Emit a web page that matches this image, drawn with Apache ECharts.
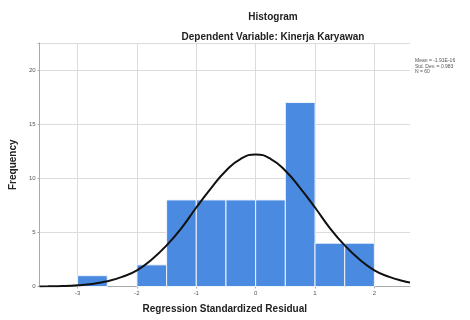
<!DOCTYPE html>
<html>
<head>
<meta charset="utf-8">
<script src="https://cdn.jsdelivr.net/npm/echarts@6/dist/echarts.min.js"></script>
<style>html,body{margin:0;padding:0;background:#fff}#c{width:470px;height:320px}</style>
</head>
<body>
<div id="c"></div>
<script>
// Histogram bins (start of each bin), bin width and frequencies
var binStarts = [-3, -2, -1.5, -1, -0.5, 0, 0.5, 1, 1.5];
var binWidth = 0.5;
var counts = [1, 2, 8, 8, 8, 8, 17, 4, 4];
// Normal curve points
var curveX = [-3.64, -3.5, -3.25, -3, -2.75, -2.5, -2.25, -2, -1.75, -1.5, -1.25, -1, -0.75, -0.5, -0.25, 0, 0.25, 0.5, 0.75, 1, 1.25, 1.5, 1.75, 2, 2.25, 2.5, 2.6];
var curveY = [0.01, 0.02, 0.05, 0.12, 0.24, 0.48, 0.89, 1.5, 2.5, 3.8, 5.4, 7.3, 9.1, 10.7, 11.8, 12.2, 11.8, 10.7, 9.1, 7.3, 5.4, 3.8, 2.5, 1.5, 0.89, 0.48, 0.37];
var xTicks = [-3, -2, -1, 0, 1, 2];
var yTicks = [0, 5, 10, 15, 20];
var titleText = 'Histogram';
var subtitleText = 'Dependent Variable: Kinerja Karyawan';
var statsLines = ['Mean = -1.91E-16', 'Std. Dev. = 0.983', 'N = 60'];

var histData = binStarts.map(function (s, i) { return [s, s + binWidth, counts[i]]; });
var curveData = curveX.map(function (x, i) { return [x, curveY[i]]; });

var chart = echarts.init(document.getElementById('c'), null, {renderer: 'canvas'});
var font = 'Liberation Sans, Arial, sans-serif';
chart.setOption({
  animation: false,
  backgroundColor: '#ffffff',
  graphic: [
    {type: 'text', x: 273, y: 17, style: {text: titleText, fontSize: 10, fontWeight: 'bold', fill: '#222', fontFamily: font, textAlign: 'center', textVerticalAlign: 'middle'}},
    {type: 'text', x: 273, y: 37, style: {text: subtitleText, fontSize: 10, fontWeight: 'bold', fill: '#222', fontFamily: font, textAlign: 'center', textVerticalAlign: 'middle'}},
    {type: 'text', x: 415, y: 58, style: {text: statsLines.join('\n'), fontSize: 5, lineHeight: 5.5, fill: '#555', fontFamily: font}}
  ],
  grid: {left: 39, right: 60, top: 43, bottom: 33.5, containLabel: false},
  xAxis: {
    type: 'value', min: -3.64, max: 2.6,
    name: 'Regression Standardized Residual', nameLocation: 'middle', nameGap: 18,
    nameTextStyle: {fontSize: 10, fontWeight: 'bold', color: '#222', fontFamily: font},
    axisLine: {show: true, onZero: false, lineStyle: {color: '#aaaaaa', width: 1}},
    axisTick: {show: true, length: 2, customValues: xTicks, lineStyle: {color: '#aaaaaa'}},
    axisLabel: {customValues: xTicks, fontSize: 6, color: '#555', margin: 4, fontFamily: font},
    splitLine: {show: true, lineStyle: {color: '#dcdcdc', width: 1}}
  },
  yAxis: {
    type: 'value', min: 0, max: 22.5, interval: 5,
    name: 'Frequency', nameLocation: 'middle', nameGap: 21, nameRotate: 90,
    nameTextStyle: {fontSize: 10, fontWeight: 'bold', color: '#222', fontFamily: font},
    axisLine: {show: true, onZero: false, lineStyle: {color: '#aaaaaa', width: 1}},
    axisTick: {show: true, length: 2, lineStyle: {color: '#aaaaaa'}},
    axisLabel: {fontSize: 6, color: '#555', margin: 4, fontFamily: font,
      formatter: function (v) { return yTicks.indexOf(v) >= 0 ? String(v) : ''; }},
    splitLine: {show: true, lineStyle: {color: '#dcdcdc', width: 1}}
  },
  series: [
    {
      type: 'custom',
      data: histData,
      renderItem: function (params, api) {
        var p0 = api.coord([api.value(0), 0]);
        var p1 = api.coord([api.value(1), api.value(2)]);
        return {
          type: 'rect',
          shape: {x: p0[0], y: p1[1], width: p1[0] - p0[0], height: p0[1] - p1[1]},
          style: {fill: '#4a8ae0', stroke: '#eef4fc', lineWidth: 1}
        };
      },
      z: 2
    },
    {
      type: 'line', data: curveData, smooth: true, showSymbol: false, symbol: 'none',
      lineStyle: {color: '#111111', width: 2}, z: 3
    }
  ]
});
</script>
</body>
</html>
